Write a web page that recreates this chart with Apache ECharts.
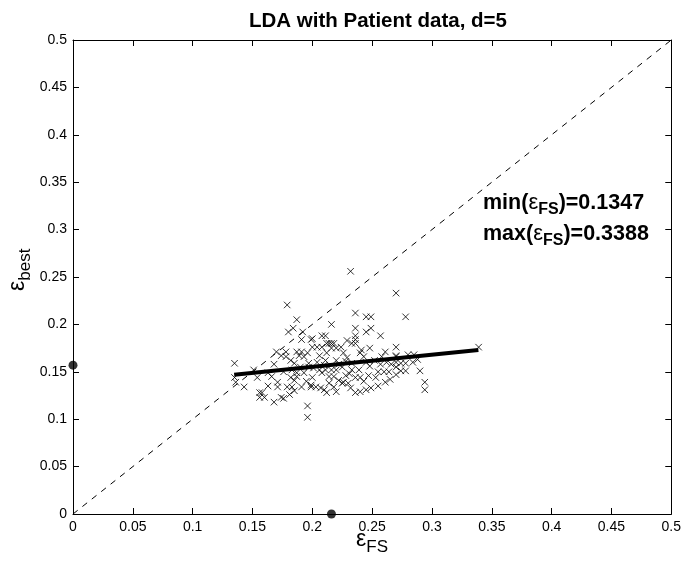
<!DOCTYPE html>
<html><head><meta charset="utf-8">
<script src="https://cdn.jsdelivr.net/npm/echarts@6/dist/echarts.min.js"></script>
<style>html,body{margin:0;padding:0;background:#fff}#c{width:684px;height:564px}</style>
</head><body><div id="c"></div>
<script>
var xTicks = [0,0.05,0.1,0.15,0.2,0.25,0.3,0.35,0.4,0.45,0.5];
var yTicks = [0,0.05,0.1,0.15,0.2,0.25,0.3,0.35,0.4,0.45,0.5];
var scatterPoints = [
[0.179,0.2205],[0.187,0.205],[0.180,0.192],[0.184,0.196],[0.192,0.192],[0.191,0.184],[0.199,0.184],
[0.232,0.256],[0.270,0.233],[0.236,0.212],[0.245,0.208],[0.249,0.208],[0.216,0.200],[0.236,0.196],
[0.245,0.192],[0.249,0.196],[0.257,0.188],[0.200,0.185],[0.208,0.188],[0.211,0.188],[0.212,0.180],
[0.216,0.180],[0.229,0.183],[0.236,0.188],[0.236,0.184],[0.233,0.180],[0.236,0.180],
[0.278,0.208],
[0.170,0.171],[0.178,0.171],[0.174,0.167],[0.178,0.166],[0.187,0.171],[0.191,0.171],[0.189,0.167],
[0.193,0.166],[0.135,0.159],[0.182,0.162],[0.185,0.159],[0.197,0.159],[0.151,0.152],[0.163,0.149],
[0.187,0.149],[0.193,0.149],[0.135,0.144],[0.136,0.139],[0.143,0.134],[0.154,0.144],[0.163,0.135],
[0.171,0.139],[0.171,0.134],[0.182,0.144],[0.185,0.141],[0.187,0.145],[0.179,0.134],[0.183,0.134],
[0.191,0.134],[0.199,0.134],[0.156,0.128],[0.158,0.128],[0.156,0.123],[0.160,0.123],[0.168,0.118],
[0.174,0.123],[0.176,0.122],[0.181,0.126],[0.185,0.130],[0.196,0.114],[0.196,0.102],
[0.200,0.176],[0.204,0.176],[0.208,0.176],[0.214,0.180],[0.218,0.180],[0.216,0.175],[0.220,0.175],
[0.241,0.173],[0.261,0.171],[0.270,0.167],[0.206,0.167],[0.211,0.162],[0.220,0.162],[0.229,0.165],
[0.233,0.159],[0.243,0.166],[0.245,0.160],[0.197,0.155],[0.201,0.154],[0.206,0.152],[0.211,0.152],
[0.216,0.152],[0.220,0.152],[0.225,0.155],[0.233,0.152],[0.239,0.152],[0.255,0.150],[0.260,0.150],
[0.264,0.150],[0.200,0.144],[0.208,0.149],[0.214,0.145],[0.222,0.141],[0.226,0.139],[0.236,0.144],
[0.240,0.144],[0.253,0.144],[0.261,0.139],[0.199,0.136],[0.203,0.134],[0.207,0.133],[0.210,0.131],
[0.212,0.128],[0.220,0.129],[0.225,0.138],[0.230,0.138],[0.236,0.128],[0.240,0.129],[0.245,0.131],
[0.249,0.133],
[0.270,0.176],[0.270,0.166],[0.280,0.168],[0.285,0.168],[0.270,0.160],[0.274,0.159],[0.278,0.159],
[0.270,0.155],[0.274,0.151],[0.278,0.151],[0.270,0.147],[0.290,0.151],[0.294,0.139],[0.294,0.131],
[0.339,0.176],
[0.222,0.158],[0.228,0.161],[0.231,0.148],[0.218,0.145],[0.248,0.156],[0.252,0.162],[0.257,0.158],
[0.204,0.160],[0.195,0.140],[0.176,0.150],[0.166,0.145],[0.226,0.170],[0.248,0.175],[0.262,0.160],
[0.214,0.138],[0.243,0.140],[0.190,0.155],[0.168,0.158],[0.255,0.135],[0.232,0.133],
[0.224,0.176],[0.240,0.170],[0.258,0.166],[0.266,0.158],[0.284,0.160],[0.288,0.163],[0.212,0.170],
[0.196,0.170],[0.183,0.152],[0.210,0.157],[0.247,0.146],[0.265,0.142],[0.228,0.146],[0.218,0.134]
];
var fitLine = [[0.1347,0.147],[0.3388,0.173]];
var diagonal = [[0,0],[0.5,0.5]];
var meanPoints = [[0,0.157],[0.216,0]];
var minFS = '0.1347', maxFS = '0.3388';

var FONT = 'Liberation Sans, Arial, Helvetica, sans-serif';
var chart = echarts.init(document.getElementById('c'));
function axisCommon(showLabel){
  return {
    type:'value', min:0, max:0.5, interval:0.05,
    axisLine:{show:true,onZero:false,lineStyle:{color:'#000',width:1}},
    axisTick:{show:true,inside:true,length:6,lineStyle:{color:'#000'}},
    splitLine:{show:false},
    axisLabel:{show:showLabel,color:'#000',fontSize:14,fontFamily:FONT,margin:6,
      formatter:function(v){return String(+v.toFixed(2));}}
  };
}
var xa0 = axisCommon(true); xa0.position='bottom'; xa0.axisLabel.margin=6;
var xa1 = axisCommon(false); xa1.position='top';
var ya0 = axisCommon(true); ya0.position='left';
var ya1 = axisCommon(false); ya1.position='right';
var rich = {
  b:{fontSize:21.5,fontWeight:'bold',fontFamily:FONT,color:'#000',lineHeight:26,verticalAlign:'top'},
  e:{fontSize:22,fontFamily:FONT,color:'#000',lineHeight:26,verticalAlign:'top'},
  s:{fontSize:16,fontWeight:'bold',fontFamily:FONT,color:'#000',lineHeight:3,verticalAlign:'bottom'}
};
var richPlain = {
  e:{fontSize:23,fontFamily:FONT,color:'#000',lineHeight:28,verticalAlign:'top'},
  s:{fontSize:17,fontFamily:FONT,color:'#000',lineHeight:5,verticalAlign:'bottom'}
};
chart.setOption({
  animation:false,
  backgroundColor:'#fff',
  title:{text:'LDA with Patient data, d=5',left:373,top:6,textAlign:'center',
    textStyle:{fontSize:20.5,fontWeight:'bold',fontFamily:FONT,color:'#000'}},
  grid:{left:73,right:10,top:40,bottom:50},
  xAxis:[xa0,xa1],
  yAxis:[ya0,ya1],
  series:[
    {type:'line',data:diagonal,symbol:'none',lineStyle:{color:'#000',width:1,type:[6,6]},silent:true},
    {type:'scatter',data:scatterPoints,symbol:'path://M0,0L10,10M10,0L0,10',symbolSize:6.5,
      itemStyle:{color:'none',borderColor:'#000',borderWidth:1}},
    {type:'line',data:fitLine,symbol:'none',lineStyle:{color:'#000',width:4}},
    {type:'scatter',data:meanPoints,symbol:'circle',symbolSize:9,clip:false,itemStyle:{color:'#000'}}
  ],
  graphic:[
    {type:'text',left:483,top:192,style:{rich:rich,text:'{b|min(}{e|ε}{s|FS}{b|)=' + minFS + '}'}},
    {type:'text',left:483,top:223,style:{rich:rich,text:'{b|max(}{e|ε}{s|FS}{b|)=' + maxFS + '}'}},
    {type:'text',left:356,top:528,style:{rich:richPlain,text:'{e|ε}{s|FS}'}},
    {type:'text',x:6,y:291,rotation:Math.PI/2,style:{rich:richPlain,text:'{e|ε}{s|best}'}}
  ]
});
</script></body></html>
